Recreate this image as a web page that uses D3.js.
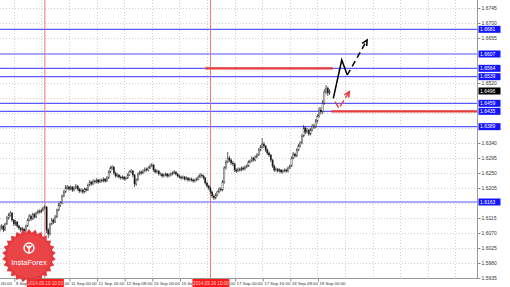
<!DOCTYPE html>
<html>
<head>
<meta charset="utf-8">
<script src="https://cdn.jsdelivr.net/npm/d3@7"></script>
<style>
  body { margin: 0; background: #fff; }
  svg { display: block; font-family: "Liberation Sans", Arial, sans-serif; }
</style>
</head>
<body>
<div class="chart"></div>
<script>
// hourly closes, 9 Sep 08:00 .. 19 Sep 07:00 (bar index 0..191)
const closes = [
  1.6085, 1.6091, 1.6079, 1.6097, 1.6115, 1.6124, 1.6130, 1.6109, 1.6097, 1.6103,
  1.6091, 1.6085, 1.6079, 1.6082, 1.6076, 1.6091, 1.6109, 1.6121, 1.6112, 1.6127,
  1.6118, 1.6130, 1.6136, 1.6133, 1.6139, 1.6145, 1.6148, 1.6079, 1.6067, 1.6097,
  1.6109, 1.6103, 1.6118, 1.6139, 1.6154, 1.6160, 1.6181, 1.6193, 1.6205, 1.6208,
  1.6202, 1.6208, 1.6199, 1.6205, 1.6211, 1.6202, 1.6196, 1.6199, 1.6193, 1.6202,
  1.6199, 1.6214, 1.6223, 1.6217, 1.6226, 1.6223, 1.6229, 1.6223, 1.6229, 1.6226,
  1.6232, 1.6226, 1.6235, 1.6253, 1.6265, 1.6268, 1.6250, 1.6241, 1.6244, 1.6238,
  1.6235, 1.6238, 1.6232, 1.6235, 1.6244, 1.6253, 1.6256, 1.6244, 1.6217, 1.6229,
  1.6247, 1.6253, 1.6250, 1.6256, 1.6262, 1.6259, 1.6265, 1.6271, 1.6274, 1.6259,
  1.6253, 1.6256, 1.6247, 1.6247, 1.6241, 1.6244, 1.6247, 1.6241, 1.6244, 1.6247,
  1.6250, 1.6253, 1.6247, 1.6241, 1.6238, 1.6235, 1.6238, 1.6232, 1.6235, 1.6229,
  1.6232, 1.6229, 1.6226, 1.6229, 1.6232, 1.6238, 1.6244, 1.6241, 1.6235, 1.6220,
  1.6211, 1.6205, 1.6193, 1.6181, 1.6175, 1.6184, 1.6193, 1.6202, 1.6199, 1.6223,
  1.6265, 1.6283, 1.6295, 1.6289, 1.6280, 1.6277, 1.6259, 1.6256, 1.6262, 1.6259,
  1.6265, 1.6262, 1.6268, 1.6271, 1.6283, 1.6286, 1.6295, 1.6289, 1.6298, 1.6304,
  1.6319, 1.6328, 1.6337, 1.6331, 1.6319, 1.6310, 1.6304, 1.6289, 1.6271, 1.6259,
  1.6262, 1.6256, 1.6259, 1.6253, 1.6256, 1.6259, 1.6256, 1.6265, 1.6271, 1.6295,
  1.6307, 1.6301, 1.6319, 1.6331, 1.6340, 1.6361, 1.6385, 1.6373, 1.6379, 1.6367,
  1.6379, 1.6391, 1.6388, 1.6406, 1.6421, 1.6439, 1.6433, 1.6460, 1.6493, 1.6505,
  1.6490, 1.6496
];
const highs = [
  1.6094, 1.6097, 1.6094, 1.6101, 1.6121, 1.6130, 1.6136, 1.6133, 1.6112, 1.6109,
  1.6106, 1.6095, 1.6088, 1.6088, 1.6086, 1.6095, 1.6113, 1.6127, 1.6125, 1.6131,
  1.6130, 1.6134, 1.6140, 1.6141, 1.6143, 1.6150, 1.6154, 1.6151, 1.6085, 1.6101,
  1.6115, 1.6114, 1.6124, 1.6143, 1.6160, 1.6166, 1.6186, 1.6199, 1.6214, 1.6214,
  1.6212, 1.6213, 1.6211, 1.6210, 1.6217, 1.6214, 1.6206, 1.6204, 1.6203, 1.6206,
  1.6207, 1.6219, 1.6229, 1.6226, 1.6231, 1.6230, 1.6234, 1.6232, 1.6233, 1.6233,
  1.6237, 1.6235, 1.6241, 1.6258, 1.6271, 1.6274, 1.6271, 1.6254, 1.6249, 1.6247,
  1.6242, 1.6243, 1.6241, 1.6240, 1.6249, 1.6258, 1.6262, 1.6259, 1.6247, 1.6234,
  1.6252, 1.6258, 1.6257, 1.6261, 1.6267, 1.6266, 1.6270, 1.6277, 1.6280, 1.6277,
  1.6263, 1.6261, 1.6259, 1.6252, 1.6250, 1.6249, 1.6252, 1.6250, 1.6249, 1.6252,
  1.6255, 1.6259, 1.6256, 1.6250, 1.6245, 1.6242, 1.6243, 1.6241, 1.6240, 1.6238,
  1.6237, 1.6236, 1.6233, 1.6234, 1.6237, 1.6243, 1.6250, 1.6248, 1.6245, 1.6238,
  1.6224, 1.6215, 1.6209, 1.6197, 1.6186, 1.6190, 1.6198, 1.6207, 1.6208, 1.6229,
  1.6271, 1.6290, 1.6313, 1.6301, 1.6293, 1.6286, 1.6281, 1.6264, 1.6267, 1.6266,
  1.6270, 1.6269, 1.6273, 1.6276, 1.6288, 1.6291, 1.6300, 1.6298, 1.6303, 1.6310,
  1.6325, 1.6334, 1.6355, 1.6343, 1.6334, 1.6323, 1.6314, 1.6307, 1.6292, 1.6275,
  1.6267, 1.6265, 1.6264, 1.6262, 1.6261, 1.6264, 1.6263, 1.6270, 1.6276, 1.6300,
  1.6313, 1.6311, 1.6324, 1.6337, 1.6346, 1.6367, 1.6394, 1.6391, 1.6385, 1.6383,
  1.6385, 1.6397, 1.6398, 1.6412, 1.6427, 1.6448, 1.6448, 1.6469, 1.6502, 1.6514,
  1.6509, 1.6501
];
const lows = [
  1.6074, 1.6080, 1.6073, 1.6076, 1.6094, 1.6110, 1.6119, 1.6103, 1.6091, 1.6092,
  1.6086, 1.6079, 1.6073, 1.6074, 1.6070, 1.6073, 1.6088, 1.6105, 1.6106, 1.6109,
  1.6113, 1.6115, 1.6126, 1.6128, 1.6130, 1.6135, 1.6140, 1.6070, 1.6055, 1.6062,
  1.6093, 1.6097, 1.6100, 1.6115, 1.6135, 1.6148, 1.6157, 1.6177, 1.6190, 1.6200,
  1.6196, 1.6198, 1.6193, 1.6195, 1.6201, 1.6197, 1.6190, 1.6191, 1.6187, 1.6189,
  1.6194, 1.6196, 1.6210, 1.6212, 1.6214, 1.6218, 1.6219, 1.6218, 1.6220, 1.6221,
  1.6222, 1.6221, 1.6223, 1.6232, 1.6249, 1.6259, 1.6244, 1.6236, 1.6237, 1.6233,
  1.6230, 1.6231, 1.6227, 1.6228, 1.6232, 1.6241, 1.6249, 1.6238, 1.6208, 1.6212,
  1.6226, 1.6243, 1.6245, 1.6247, 1.6252, 1.6254, 1.6255, 1.6262, 1.6267, 1.6254,
  1.6248, 1.6249, 1.6242, 1.6242, 1.6236, 1.6237, 1.6240, 1.6236, 1.6237, 1.6240,
  1.6243, 1.6246, 1.6242, 1.6236, 1.6233, 1.6230, 1.6231, 1.6227, 1.6228, 1.6224,
  1.6225, 1.6224, 1.6221, 1.6222, 1.6225, 1.6228, 1.6234, 1.6236, 1.6230, 1.6215,
  1.6205, 1.6199, 1.6187, 1.6175, 1.6169, 1.6171, 1.6180, 1.6189, 1.6194, 1.6195,
  1.6218, 1.6260, 1.6279, 1.6283, 1.6274, 1.6270, 1.6253, 1.6250, 1.6252, 1.6254,
  1.6255, 1.6257, 1.6258, 1.6264, 1.6268, 1.6279, 1.6282, 1.6284, 1.6285, 1.6294,
  1.6301, 1.6315, 1.6324, 1.6325, 1.6313, 1.6304, 1.6298, 1.6283, 1.6265, 1.6253,
  1.6254, 1.6251, 1.6252, 1.6248, 1.6249, 1.6252, 1.6251, 1.6252, 1.6261, 1.6268,
  1.6291, 1.6296, 1.6298, 1.6315, 1.6326, 1.6336, 1.6357, 1.6367, 1.6368, 1.6361,
  1.6363, 1.6375, 1.6382, 1.6384, 1.6401, 1.6416, 1.6425, 1.6428, 1.6455, 1.6486,
  1.6481, 1.6484
];
const firstOpen = 1.6080;

const priceTicks = [
  1.6745, 1.6700, 1.6655, 1.6610, 1.6565, 1.6520, 1.6475, 1.6430, 1.6385, 1.6340,
  1.6295, 1.6250, 1.6205, 1.6160, 1.6115, 1.6070, 1.6025, 1.5980, 1.5935
];
const timeTickBars = [-8, 8, 24, 40, 56, 72, 88, 104, 120, 136, 152, 168, 184];
const timeTickLabels = [
  "9 Sep 00:00", "9 Sep 16:00", "10 Sep 08:00", "11 Sep 00:00", "11 Sep 16:00",
  "12 Sep 08:00", "15 Sep 00:00", "15 Sep 16:00", "16 Sep 08:00", "17 Sep 00:00",
  "17 Sep 16:00", "18 Sep 08:00", "19 Sep 00:00"
];
const futureGridBars = [200, 216, 232, 248, 264];

const levelPrices = [1.6681, 1.6607, 1.6564, 1.6539, 1.6459, 1.6435, 1.6389, 1.6163];
const lastPrice = 1.6496;

const eventBars = [26, 122];
const eventLabels = ["2014.09.10 10:00", "2014.09.16 10:00"];

// red target segments: [fromBar, toBar, price]
const redSegments = [[119, 193, 1.6564], [192, 276.5, 1.6435]];

// forecast arrows, [bar, price]
const blackSolid = [[193.2, 1.6474], [198.1, 1.6589], [201.3, 1.6544]];
const blackDashed = [[201.3, 1.6544], [212.8, 1.6649]];
const redPath = [[194.2, 1.6464], [196.5, 1.6444], [202.5, 1.6494]];

const W = 510, H = 287;
const plotRight = 477, plotBottom = 278;

const svg = d3.select(".chart").append("svg")
  .attr("width", W).attr("height", H)
  .style("background", "#fff");

const x = d3.scaleLinear().domain([0, 276.5]).range([0, plotRight]);
const y = d3.scaleLinear().domain([1.5935, 1.6745]).range([plotBottom, 8]);

const plot = svg.append("g");
plot.append("clipPath").attr("id", "clip")
  .append("rect").attr("width", plotRight).attr("height", plotBottom);
const inner = plot.append("g").attr("clip-path", "url(#clip)");

// dotted grid
inner.selectAll(".hg").data(priceTicks).enter().append("line")
  .attr("x1", 0).attr("x2", plotRight)
  .attr("y1", d => Math.round(y(d)) + 0.5).attr("y2", d => Math.round(y(d)) + 0.5)
  .attr("stroke", "#cfcfcf").attr("stroke-dasharray", "1,2");
inner.selectAll(".vg").data(timeTickBars.concat(futureGridBars)).enter().append("line")
  .attr("x1", d => Math.round(x(d)) + 0.5).attr("x2", d => Math.round(x(d)) + 0.5)
  .attr("y1", 0).attr("y2", plotBottom)
  .attr("stroke", "#cfcfcf").attr("stroke-dasharray", "1,2");

// horizontal levels
inner.selectAll(".lvl").data(levelPrices).enter().append("line")
  .attr("x1", 0).attr("x2", plotRight)
  .attr("y1", d => y(d)).attr("y2", d => y(d))
  .attr("stroke", "#5a5aff").attr("stroke-width", 1.1);

// event lines
inner.selectAll(".ev").data(eventBars).enter().append("line")
  .attr("x1", d => x(d)).attr("x2", d => x(d))
  .attr("y1", 0).attr("y2", plotBottom)
  .attr("stroke", "#e86a6a").attr("stroke-width", 0.9);

// candles
const candles = closes.map((c, i) => ({
  i, o: i === 0 ? firstOpen : closes[i - 1], h: highs[i], l: lows[i], c
}));
const cg = inner.append("g");
cg.selectAll(".wick").data(candles).enter().append("line")
  .attr("x1", d => x(d.i)).attr("x2", d => x(d.i))
  .attr("y1", d => y(d.h)).attr("y2", d => y(d.l))
  .attr("stroke", "#222").attr("stroke-width", 0.7);
cg.selectAll(".body").data(candles).enter().append("rect")
  .attr("x", d => x(d.i) - 0.6).attr("width", 1.2)
  .attr("y", d => y(Math.max(d.o, d.c)))
  .attr("height", d => Math.max(0.7, Math.abs(y(d.o) - y(d.c))))
  .attr("fill", d => d.c >= d.o ? "#fff" : "#111")
  .attr("stroke", "#222").attr("stroke-width", 0.4);

// red target segments
inner.selectAll(".rs").data(redSegments).enter().append("line")
  .attr("x1", d => x(d[0])).attr("x2", d => x(d[1]))
  .attr("y1", d => y(d[2])).attr("y2", d => y(d[2]))
  .attr("stroke", "#e83a3a").attr("stroke-width", 2.2);

// arrows
const line = d3.line().x(d => x(d[0])).y(d => y(d[1]));
function arrowHead(g, pts, color) {
  const a = pts[pts.length - 2], b = pts[pts.length - 1];
  const ax = x(a[0]), ay = y(a[1]), bx = x(b[0]), by = y(b[1]);
  const ang = Math.atan2(by - ay, bx - ax);
  const len = 6, spread = 0.45;
  const p1 = [bx - len * Math.cos(ang - spread), by - len * Math.sin(ang - spread)];
  const p2 = [bx - len * Math.cos(ang + spread), by - len * Math.sin(ang + spread)];
  g.append("path")
    .attr("d", `M${p1}L${bx},${by}L${p2}`)
    .attr("fill", "none")
    .attr("stroke", color).attr("stroke-width", 1.5);
}
const ag = inner.append("g");
ag.append("path").attr("d", line(blackSolid))
  .attr("fill", "none").attr("stroke", "#000").attr("stroke-width", 1.5);
ag.append("path").attr("d", line(blackDashed))
  .attr("fill", "none").attr("stroke", "#000").attr("stroke-width", 1.5)
  .attr("stroke-dasharray", "6,4");
arrowHead(ag, blackDashed, "#000");
ag.append("path").attr("d", line(redPath))
  .attr("fill", "none").attr("stroke", "#e83a3a").attr("stroke-width", 1.4)
  .attr("stroke-dasharray", "7,3");
arrowHead(ag, redPath, "#e83a3a");

// frame
svg.append("line").attr("x1", plotRight + 0.5).attr("x2", plotRight + 0.5)
  .attr("y1", 0).attr("y2", plotBottom + 0.5).attr("stroke", "#999");
svg.append("line").attr("x1", 0).attr("x2", plotRight + 0.5)
  .attr("y1", plotBottom + 0.5).attr("y2", plotBottom + 0.5).attr("stroke", "#999");

// price axis (tick labels under a level tag are hidden, as in the terminal)
const tagPrices = levelPrices.concat([lastPrice]);
const shownTicks = priceTicks.filter(t =>
  tagPrices.every(p => Math.abs(y(p) - y(t)) > 5.5));
const yAxis = d3.axisRight(y).tickValues(shownTicks)
  .tickFormat(d3.format(".4f")).tickSize(3).tickPadding(1);
const ya = svg.append("g").attr("transform", `translate(${plotRight + 0.5},0)`).call(yAxis);
ya.select(".domain").remove();
ya.selectAll("line").attr("stroke", "#888");
ya.selectAll("text").attr("fill", "#333").style("font-size", "5px");

// time axis
const xAxis = d3.axisBottom(x).tickValues(timeTickBars)
  .tickFormat((d, i) => timeTickLabels[i]).tickSize(3).tickPadding(0);
const xa = svg.append("g").attr("transform", `translate(0,${plotBottom + 0.5})`).call(xAxis);
xa.select(".domain").remove();
xa.selectAll("line").attr("stroke", "#888").attr("transform", "translate(0.5,0)");
xa.selectAll("text").attr("fill", "#333").style("font-size", "4.4px")
  .attr("text-anchor", "start").attr("dx", 1.5).attr("dy", "0.7em");

// level labels
const lbl = svg.append("g");
function priceTag(p, bg) {
  const yy = y(p);
  lbl.append("rect").attr("x", plotRight + 1.5).attr("y", yy - 3.5)
    .attr("width", 22).attr("height", 7).attr("fill", bg);
  lbl.append("text").attr("x", plotRight + 3).attr("y", yy + 1.8)
    .attr("fill", "#fff").style("font-size", "5px").text(d3.format(".4f")(p));
}
levelPrices.forEach(p => priceTag(p, "#1414ff"));
priceTag(lastPrice, "#000");

// event labels
eventBars.forEach((b, i) => {
  const cx = x(b);
  svg.append("rect").attr("x", cx - 18).attr("y", plotBottom + 1)
    .attr("width", 37).attr("height", 8).attr("fill", "#ff1a1a");
  svg.append("text").attr("x", cx + 0.5).attr("y", plotBottom + 6.6)
    .attr("text-anchor", "middle").attr("fill", "#ffd6d6")
    .style("font-size", "4.6px").text(eventLabels[i]);
});

// logo
const logo = svg.append("g").attr("transform", "translate(29,256)");
const spikes = 26;
const star = d3.range(spikes * 2).map(k => {
  const r = k % 2 ? 23.5 : 27;
  const a = Math.PI * k / spikes;
  return [r * Math.sin(a), -r * Math.cos(a)];
});
logo.append("path").attr("d", "M" + star.join("L") + "Z").attr("fill", "#e4393c");
logo.append("circle").attr("r", 22).attr("fill", "#ea4447");
const icon = logo.append("g").attr("transform", "translate(0,-8)")
  .attr("fill", "none").attr("stroke", "#fff").attr("stroke-width", 1.4);
icon.append("circle").attr("r", 5);
icon.append("path").attr("d", "M0,-2.5V5M-2.8,-2.5L0,0.5L2.8,-2.5");
logo.append("text").attr("y", 9).attr("text-anchor", "middle")
  .attr("fill", "#fff").style("font-size", "7.5px").text("InstaForex");
</script>
</body>
</html>
